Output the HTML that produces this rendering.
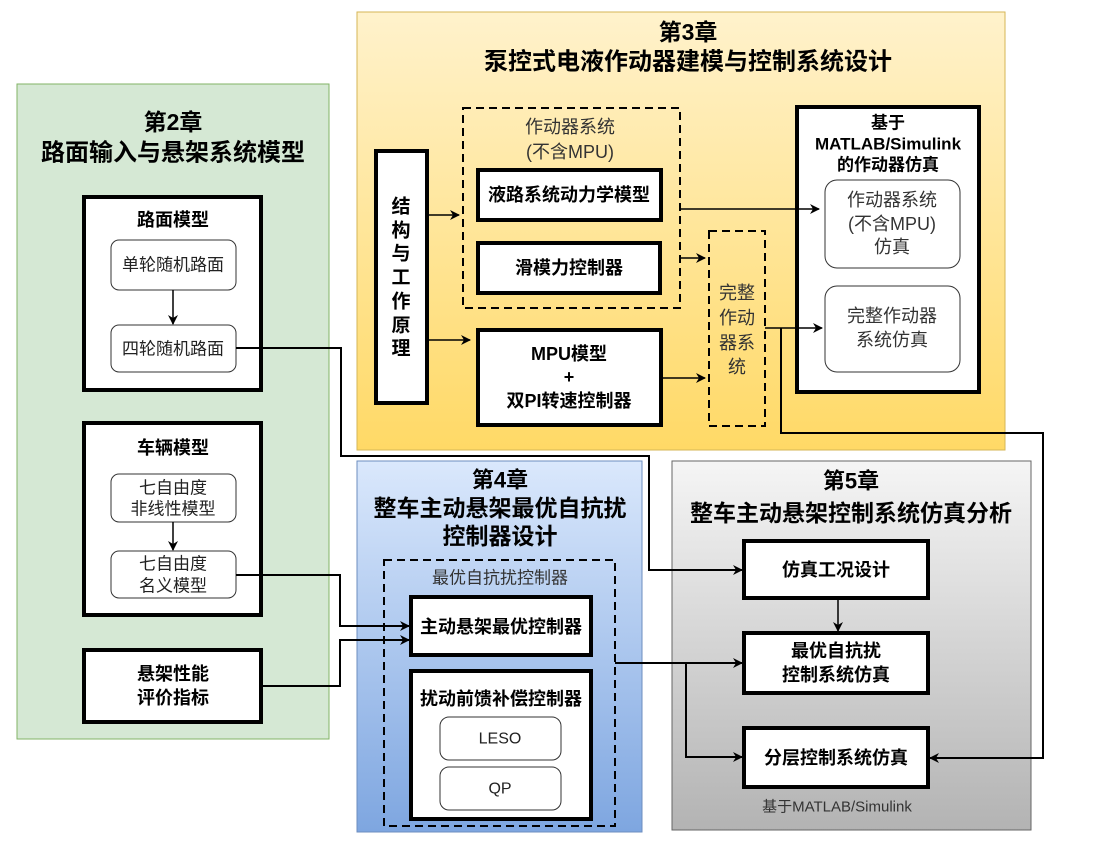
<!DOCTYPE html>
<html><head><meta charset="utf-8"><style>
html,body{margin:0;padding:0;background:#fff;}
svg{display:block;}
text{font-family:"Liberation Sans","Noto Sans CJK SC",sans-serif;text-anchor:middle;dominant-baseline:central;}
.b{font-weight:bold;}
</style></head><body>
<svg width="1097" height="858" viewBox="0 0 1097 858" xmlns="http://www.w3.org/2000/svg">
<defs>
<linearGradient id="gy" x1="0" y1="0" x2="0" y2="1"><stop offset="0" stop-color="#fff2cc"/><stop offset="1" stop-color="#ffd966"/></linearGradient>
<linearGradient id="gb" x1="0" y1="0" x2="0" y2="1"><stop offset="0" stop-color="#dae8fc"/><stop offset="1" stop-color="#7ea6e0"/></linearGradient>
<linearGradient id="gg" x1="0" y1="0" x2="0" y2="1"><stop offset="0" stop-color="#f5f5f5"/><stop offset="1" stop-color="#b3b3b3"/></linearGradient>
<marker id="ar" markerWidth="10" markerHeight="10" refX="9" refY="5" orient="auto" markerUnits="userSpaceOnUse"><path d="M0,0 L10,5 L0,10 L3,5 Z" fill="#000"/></marker>
</defs>

<rect x="17" y="84" width="312" height="655" fill="#d5e8d4" stroke="#82b366"/>
<rect x="357" y="12" width="648" height="438" fill="url(#gy)" stroke="#d6b656"/>
<rect x="357" y="461" width="285" height="371" fill="url(#gb)" stroke="#6c8ebf"/>
<rect x="672" y="461" width="359" height="369" fill="url(#gg)" stroke="#666"/>

<!-- chapter 2 -->
<text x="173" y="122" class="b" font-size="23">第2章</text>
<text x="173" y="153" class="b" font-size="24">路面输入与悬架系统模型</text>
<rect x="84" y="197" width="177" height="193" fill="#fff" stroke="#000" stroke-width="4"/>
<text x="173" y="220" class="b" font-size="18">路面模型</text>
<rect x="111" y="240" width="125" height="50" rx="8" fill="#fff" stroke="#333"/>
<text x="173" y="265" font-size="17" fill="#222">单轮随机路面</text>
<rect x="111" y="325" width="125" height="47" rx="8" fill="#fff" stroke="#333"/>
<text x="173" y="349" font-size="17" fill="#222">四轮随机路面</text>
<line x1="173" y1="290" x2="173" y2="324" stroke="#000" stroke-width="1.5" marker-end="url(#ar)"/>

<rect x="84" y="423" width="177" height="192" fill="#fff" stroke="#000" stroke-width="4"/>
<text x="173" y="448" class="b" font-size="18">车辆模型</text>
<rect x="111" y="474" width="125" height="48" rx="8" fill="#fff" stroke="#333"/>
<text x="173" y="488" font-size="17" fill="#222">七自由度</text>
<text x="173" y="509" font-size="17" fill="#222">非线性模型</text>
<rect x="111" y="551" width="125" height="47" rx="8" fill="#fff" stroke="#333"/>
<text x="173" y="564" font-size="17" fill="#222">七自由度</text>
<text x="173" y="586" font-size="17" fill="#222">名义模型</text>
<line x1="173" y1="522" x2="173" y2="550" stroke="#000" stroke-width="1.5" marker-end="url(#ar)"/>

<rect x="84" y="650" width="177" height="72" fill="#fff" stroke="#000" stroke-width="4"/>
<text x="173" y="674" class="b" font-size="18">悬架性能</text>
<text x="173" y="698" class="b" font-size="18">评价指标</text>

<!-- chapter 3 -->
<text x="688" y="32" class="b" font-size="23">第3章</text>
<text x="688" y="62" class="b" font-size="24">泵控式电液作动器建模与控制系统设计</text>
<rect x="376" y="151" width="51" height="252" fill="#fff" stroke="#000" stroke-width="4"/>
<g class="b" font-size="19">
<text x="401" y="207">结</text><text x="401" y="231">构</text><text x="401" y="254">与</text><text x="401" y="278">工</text><text x="401" y="302">作</text><text x="401" y="326">原</text><text x="401" y="349">理</text>
</g>
<rect x="463" y="108" width="217" height="200" fill="none" stroke="#000" stroke-width="2" stroke-dasharray="8,5"/>
<text x="570" y="127" font-size="18" fill="#333">作动器系统</text>
<text x="570" y="152" font-size="18" fill="#333">(不含MPU)</text>
<rect x="478" y="170" width="183" height="50" fill="#fff" stroke="#000" stroke-width="4"/>
<text x="569" y="195" class="b" font-size="18">液路系统动力学模型</text>
<rect x="478" y="243" width="182" height="50" fill="#fff" stroke="#000" stroke-width="4"/>
<text x="569" y="268" class="b" font-size="18">滑模力控制器</text>
<rect x="478" y="330" width="183" height="95" fill="#fff" stroke="#000" stroke-width="4"/>
<text x="569" y="354" class="b" font-size="18">MPU模型</text>
<text x="569" y="377" class="b" font-size="18">+</text>
<text x="569" y="401" class="b" font-size="18">双PI转速控制器</text>
<rect x="709" y="231" width="56" height="195" fill="none" stroke="#000" stroke-width="2" stroke-dasharray="8,5"/>
<g font-size="18" fill="#333">
<text x="737" y="293">完整</text><text x="737" y="318">作动</text><text x="737" y="343">器系</text><text x="737" y="367">统</text>
</g>
<rect x="797" y="107" width="182" height="285" fill="#fff" stroke="#000" stroke-width="4"/>
<text x="888" y="123" class="b" font-size="17">基于</text>
<text x="888" y="144" class="b" font-size="17">MATLAB/Simulink</text>
<text x="888" y="165" class="b" font-size="17">的作动器仿真</text>
<rect x="825" y="180" width="135" height="88" rx="12" fill="#fff" stroke="#333"/>
<text x="892" y="200" font-size="18" fill="#333">作动器系统</text>
<text x="892" y="224" font-size="18" fill="#333">(不含MPU)</text>
<text x="892" y="247" font-size="18" fill="#333">仿真</text>
<rect x="825" y="286" width="135" height="86" rx="12" fill="#fff" stroke="#333"/>
<text x="892" y="316" font-size="18" fill="#333">完整作动器</text>
<text x="892" y="340" font-size="18" fill="#333">系统仿真</text>

<g stroke="#000" stroke-width="1.5" fill="none">
<line x1="427" y1="215" x2="459" y2="215" marker-end="url(#ar)"/>
<line x1="427" y1="340" x2="470" y2="340" marker-end="url(#ar)"/>
<line x1="680" y1="209" x2="819" y2="209" marker-end="url(#ar)"/>
<line x1="680" y1="258" x2="705" y2="258" marker-end="url(#ar)"/>
<line x1="661" y1="378" x2="705" y2="378" marker-end="url(#ar)"/>
<line x1="765" y1="328" x2="822" y2="328" marker-end="url(#ar)"/>
</g>

<!-- chapter 4 -->
<text x="500" y="480" class="b" font-size="22">第4章</text>
<text x="500" y="508" class="b" font-size="23">整车主动悬架最优自抗扰</text>
<text x="500" y="536" class="b" font-size="23">控制器设计</text>
<rect x="384" y="560" width="231" height="266" fill="none" stroke="#000" stroke-width="2" stroke-dasharray="8,5"/>
<text x="500" y="578" font-size="17" fill="#333">最优自抗扰控制器</text>
<rect x="411" y="597" width="180" height="58" fill="#fff" stroke="#000" stroke-width="4"/>
<text x="501" y="627" class="b" font-size="18">主动悬架最优控制器</text>
<rect x="411" y="671" width="180" height="148" fill="#fff" stroke="#000" stroke-width="4"/>
<text x="501" y="699" class="b" font-size="18">扰动前馈补偿控制器</text>
<rect x="440" y="717" width="121" height="43" rx="9" fill="#fff" stroke="#333"/>
<text x="500" y="739" font-size="16" fill="#222">LESO</text>
<rect x="440" y="767" width="121" height="43" rx="9" fill="#fff" stroke="#333"/>
<text x="500" y="789" font-size="16" fill="#222">QP</text>

<!-- chapter 5 -->
<text x="851" y="481" class="b" font-size="22">第5章</text>
<text x="851" y="513" class="b" font-size="23">整车主动悬架控制系统仿真分析</text>
<rect x="744" y="541" width="184" height="57" fill="#fff" stroke="#000" stroke-width="4"/>
<text x="836" y="570" class="b" font-size="18">仿真工况设计</text>
<rect x="744" y="633" width="184" height="60" fill="#fff" stroke="#000" stroke-width="4"/>
<text x="836" y="651" class="b" font-size="18">最优自抗扰</text>
<text x="836" y="675" class="b" font-size="18">控制系统仿真</text>
<rect x="744" y="728" width="184" height="59" fill="#fff" stroke="#000" stroke-width="4"/>
<text x="836" y="758" class="b" font-size="18">分层控制系统仿真</text>
<text x="837" y="807" font-size="15" fill="#333">基于MATLAB/Simulink</text>

<g stroke="#000" stroke-width="2" fill="none">
<polyline points="236,348 341,348 341,456 649,456 649,570 742,570" marker-end="url(#ar)"/>
<polyline points="236,575 340,575 340,626 409,626" marker-end="url(#ar)"/>
<polyline points="261,686 340,686 340,640 409,640" marker-end="url(#ar)"/>
<polyline points="615,663 742,663" marker-end="url(#ar)"/>
<polyline points="686,663 686,757 742,757" marker-end="url(#ar)"/>
<polyline points="781,328 781,433 1043,433 1043,758 930,758" marker-end="url(#ar)"/>
<line x1="838" y1="598" x2="838" y2="631" stroke-width="1.5" marker-end="url(#ar)"/>
</g>
</svg>
</body></html>
